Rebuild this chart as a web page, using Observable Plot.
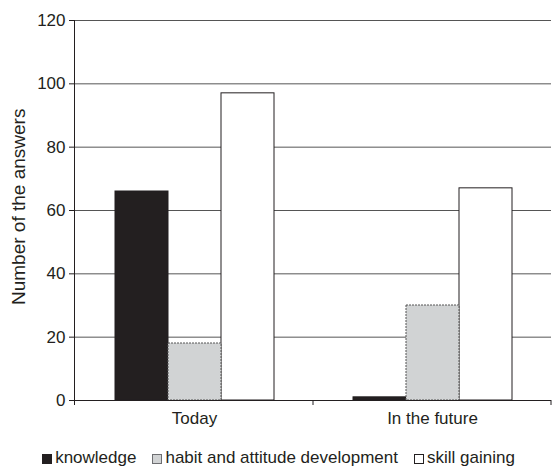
<!DOCTYPE html>
<html>
<head>
<meta charset="utf-8">
<script src="https://cdn.jsdelivr.net/npm/d3@7"></script>
<script src="https://cdn.jsdelivr.net/npm/@observablehq/plot@0.6"></script>
<style>
  html, body { margin: 0; padding: 0; background: #fff; }
  body { width: 552px; height: 467px; overflow: hidden; font-family: "Liberation Sans", Arial, sans-serif; color: #231f20; }
  #chart { height: 430px; }
  #legend { display: flex; justify-content: center; gap: 16px; font-size: 17px; line-height: 20px; height: 37px; padding-left: 5px; box-sizing: border-box; padding-top: 18px; align-items: flex-start; }
  .item { display: flex; align-items: center; height: 20px; }
  .sw { width: 8px; height: 8px; border: 1px solid #231f20; margin-right: 3px; margin-top: 2px; }
</style>
</head>
<body>
<div id="chart"></div>
<div id="legend"></div>
<script>
const categories = ["Today", "In the future"];
const series = ["knowledge", "habit and attitude development", "skill gaining"];
const knowledge = [66, 1];
const habit = [18, 30];
const skill = [97, 67];
const yTicks = [0, 20, 40, 60, 80, 100, 120];
const yLabel = "Number of the answers";
const colors = ["#231f20", "#d1d3d4", "#ffffff"];
const swatchBorders = ["#231f20", "#6d6e71", "#231f20"];

const seriesValues = [knowledge, habit, skill];
const data = categories.flatMap((c, i) =>
  series.map((s, j) => ({ category: c, series: s, value: seriesValues[j][i] }))
);

const plot = Plot.plot({
  width: 552,
  height: 430,
  marginTop: 20,
  marginBottom: 30,
  marginLeft: 74,
  marginRight: 1,
  style: { fontFamily: "'Liberation Sans', Arial, sans-serif", fontSize: "17px", color: "#231f20", background: "#fff", display: "block" },
  fx: { domain: categories, padding: 0, label: null },
  x: { domain: series, paddingInner: 0, paddingOuter: 0.735, axis: null },
  y: { domain: [0, 120] },
  color: { domain: series, range: colors },
  marks: [
    Plot.gridY(yTicks, { stroke: "#555", strokeOpacity: 1, strokeWidth: 1 }),
    Plot.barY(data.filter(d => d.series !== series[1]), { fx: "category", x: "series", y: "value", fill: "series", stroke: "#231f20", strokeWidth: 1 }),
    Plot.barY(data.filter(d => d.series === series[1]), { fx: "category", x: "series", y: "value", fill: "series", stroke: "#555", strokeWidth: 1, strokeDasharray: "2,1" }),
    Plot.ruleY([0], { stroke: "#231f20", strokeWidth: 1 }),
    Plot.axisY(yTicks, { tickSize: 6, tickPadding: 4, label: null, fontSize: 17, tickFormat: d => d }),
    Plot.axisFx({ anchor: "bottom", tickSize: 0, tickPadding: 11, label: null, fontSize: 17 })
  ]
});

document.getElementById("chart").appendChild(plot);

// y-axis line, category boundary ticks and y label, from Plot's own scales
const fx = plot.scale("fx");
const y = plot.scale("y");
const svg = d3.select(plot);
const g = svg.append("g").attr("stroke", "#231f20").attr("stroke-width", 1);
const y0 = y.apply(0), yTop = y.apply(120);
g.append("line").attr("x1", fx.range[0] + 0.5).attr("x2", fx.range[0] + 0.5).attr("y1", yTop).attr("y2", y0 + 5);
const bounds = categories.map(c => fx.apply(c)).slice(1).concat([fx.range[1]]);
bounds.forEach(b => {
  g.append("line").attr("x1", b).attr("x2", b).attr("y1", y0).attr("y2", y0 + 5);
});
const labelY = y.apply(61);
svg.append("text")
  .attr("transform", `translate(25,${labelY}) rotate(-90)`)
  .attr("text-anchor", "middle")
  .attr("fill", "#231f20")
  .attr("font-size", 19)
  .attr("font-family", "'Liberation Sans', Arial, sans-serif")
  .text(yLabel);

// legend
const legend = d3.select("#legend");
series.forEach((s, i) => {
  const it = legend.append("div").attr("class", "item");
  it.append("div").attr("class", "sw").style("background", colors[i]).style("border-color", swatchBorders[i]);
  it.append("span").text(s);
});
</script>
</body>
</html>
